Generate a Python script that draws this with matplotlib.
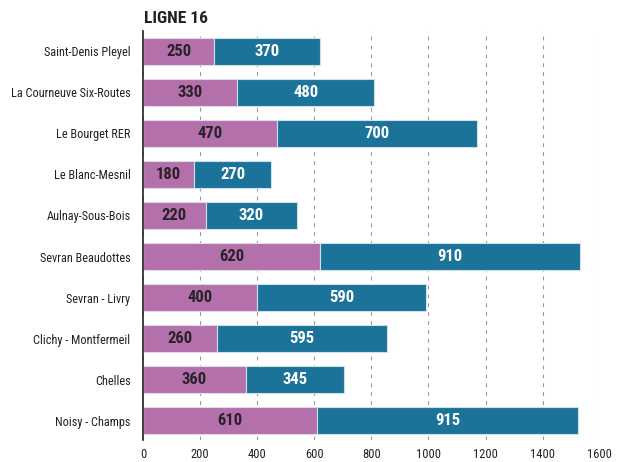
import matplotlib.pyplot as plt

stations = ["Saint-Denis Pleyel", "La Courneuve Six-Routes", "Le Bourget RER", "Le Blanc-Mesnil",
            "Aulnay-Sous-Bois", "Sevran Beaudottes", "Sevran - Livry", "Clichy - Montfermeil",
            "Chelles", "Noisy - Champs"]
part1 = [250, 330, 470, 180, 220, 620, 400, 260, 360, 610]
part2 = [370, 480, 700, 270, 320, 910, 590, 595, 345, 915]
xticks = [0, 200, 400, 600, 800, 1000, 1200, 1400, 1600]

plt.rcParams['font.family'] = ['Roboto Condensed', 'Roboto', 'DejaVu Sans']

fig = plt.figure(figsize=(6.3, 4.62), dpi=100)
ax = fig.add_axes([0.227, 0.048, 0.725, 0.885])

y = list(range(len(stations)))
purple = '#b370ab'
blue = '#1c7399'
h = 0.64
ax.barh(y, part1, height=h, color=purple, edgecolor='#dcdcec', linewidth=0.8, zorder=3)
ax.barh(y, part2, left=part1, height=h, color=blue, edgecolor='#cfe0ea', linewidth=0.8, zorder=3)

for i in y:
    ax.text(part1[i] / 2, i, str(part1[i]), ha='center', va='center', fontsize=12,
            fontweight='bold', color='#2a2229', zorder=4)
    ax.text(part1[i] + part2[i] / 2, i, str(part2[i]), ha='center', va='center', fontsize=12,
            fontweight='bold', color='white', zorder=4)

ax.set_xlim(0, 1600)
ax.set_ylim(9.47, -0.5)
ax.set_yticks(y)
ax.set_yticklabels(stations, fontsize=8.8, color='#222222')
ax.set_xticks(xticks)
ax.set_xticklabels([str(v) for v in xticks], fontsize=9, color='#222222')
ax.tick_params(length=0, pad=6)
ax.tick_params(axis='y', pad=9)
ax.xaxis.grid(True, linestyle=(0, (3.5, 4.5)), color='#9a9a9a', linewidth=0.8, zorder=0)
for s in ['top', 'right', 'bottom']:
    ax.spines[s].set_visible(False)
ax.spines['left'].set_color('#222222')
ax.spines['left'].set_linewidth(1.2)
ax.spines['left'].set_zorder(5)

fig.text(0.228, 0.961, "LIGNE 16", fontsize=12.5, fontweight='bold', color='#222222', va='center')

fig.savefig('out.png', dpi=100)
